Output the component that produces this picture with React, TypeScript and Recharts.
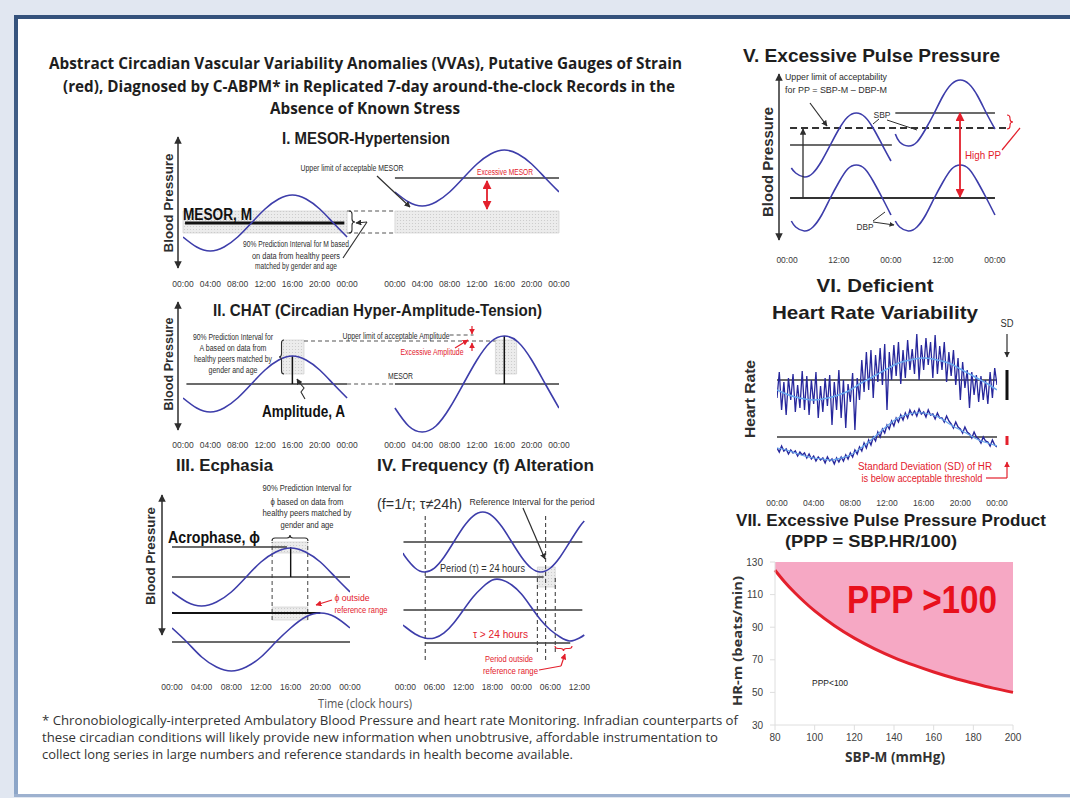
import React from "react";
import {
  Area,
  ComposedChart,
  Line,
  LineChart,
  ReferenceArea,
  ReferenceLine,
  XAxis,
  YAxis,
} from "recharts";

const ARIAL = '"Liberation Sans", Arial, sans-serif';
const CALIBRI = '"Open Sans", "Liberation Sans", sans-serif';
const BLUE = "#3d3daa";
const INK = "#2e2e2e";
const RED = "#e3202c";
const LINE = "#3a3a3a";

// ---- shared time grids (clock hours) ----
const dayHours = [0, 2, 4, 6, 8, 10, 12, 14, 16, 18, 20, 22, 24];
const dayHoursRight = [31, 33, 35, 37, 39, 41, 43, 45, 47, 49, 51, 53, 55];
const dayTicks = [0, 4, 8, 12, 16, 20, 24];
const dayTickLabels = ["00:00", "04:00", "08:00", "12:00", "16:00", "20:00", "00:00"];
const pairTicks = [0, 4, 8, 12, 16, 20, 24, 31, 35, 39, 43, 47, 51, 55];
const pairTickLabels = [...dayTickLabels, ...dayTickLabels];

// I. MESOR-hypertension (schematic BP units)
const mesorNormal = [33, 23, 19, 23, 33, 47, 61, 71, 75, 71, 61, 47, 33];
const mesorHigh = [78, 68, 64, 68, 78, 92, 106, 116, 120, 116, 106, 92, 78];

// II. CHAT
const chatNormal = [42, 32, 28, 32, 42, 56, 70, 80, 84, 80, 70, 56, 42];
const chatHigh = [32, 14, 8, 14, 32, 56, 80, 98, 104, 98, 80, 56, 32];

// III. Ecphasia
const ecphasiaNormal = [88, 78, 74, 78, 88, 103, 118, 128, 132, 128, 118, 103, 88];
const ecphasiaLate = [52, 38, 23, 13, 9, 13, 23, 38, 52, 63, 67, 63, 52];

// IV. Frequency alteration
const freqHours = [-0.5, 0, 2, 4, 6, 8, 10, 12, 14, 16, 18, 20, 22, 24, 26, 28, 30, 32, 34, 36, 37];
const freqTicks = [0, 6, 12, 18, 24, 30, 36];
const freqTickLabels = ["00:00", "06:00", "12:00", "18:00", "00:00", "06:00", "12:00"];
const freq24 = [127, 123, 112, 108, 112, 123, 138, 153, 164, 168, 164, 153, 138, 123, 112, 108, 112, 123, 138, 153, 159];
const freqLong = [55, 53, 46, 42, 42, 47, 57, 70, 83, 93, 100, 100, 95, 86, 73, 60, 50, 43, 39, 42, 45];

// V. Excessive pulse pressure
const ppHoursDay1 = [1, 2, 4, 6, 8, 10, 12, 14, 16, 18, 20, 22, 24];
const ppHoursDay2 = [25, 26, 28, 30, 32, 34, 36, 38, 40, 42, 44, 46, 48];
const ppTicks = [0, 12, 24, 36, 48];
const ppTickLabels = ["00:00", "12:00", "00:00", "12:00", "00:00"];
const sbpDay1 = [82, 77, 73, 77, 89, 105, 121, 133, 137, 133, 121, 105, 89];
const sbpDay2 = [116, 108, 104, 108, 121, 137, 154, 166, 170, 166, 154, 137, 121];
const dbpDay1 = [29, 23, 19, 23, 35, 52, 68, 81, 85, 81, 68, 52, 35];
const dbpDay2 = [29, 23, 19, 23, 35, 52, 68, 81, 85, 81, 68, 52, 35];

// VI. Heart rate, sampled every 15 min
const hrVariable = [
  72, 98, 60, 88, 55, 92, 70, 96, 58, 85, 62, 99, 60, 94, 55, 90,
  66, 98, 52, 84, 58, 92, 64, 95, 45, 88, 60, 100, 52, 90, 42, 86,
  68, 97, 40, 92, 70, 110, 78, 118, 80, 120, 72, 115, 88, 122, 85, 126,
  60, 118, 90, 125, 94, 128, 86, 120, 92, 130, 100, 121, 96, 136, 90, 125,
  100, 132, 105, 128, 92, 135, 96, 124, 100, 128, 88, 118, 94, 120, 85, 112,
  70, 108, 82, 100, 62, 98, 75, 95, 68, 94, 70, 90, 66, 98, 72, 102, 85,
];
const hrDamped = [
  22, 18, 24, 19, 21, 16, 20, 17, 19, 14, 18, 15, 17, 12, 16, 11,
  14, 9, 13, 10, 12, 7, 13, 9, 11, 6, 12, 8, 13, 9, 15, 11,
  17, 13, 20, 16, 23, 19, 27, 22, 30, 25, 33, 29, 38, 33, 41, 37,
  45, 41, 49, 44, 52, 48, 55, 50, 57, 52, 60, 55, 59, 54, 61, 56,
  58, 53, 60, 55, 56, 51, 57, 52, 52, 48, 54, 49, 46, 42, 48, 43,
  41, 37, 43, 38, 36, 32, 38, 33, 31, 27, 33, 29, 28, 24, 30, 25, 23,
];
const hourly = [0, 1, 2, 3, 4, 5, 6, 7, 8, 9, 10, 11, 12, 13, 14, 15, 16, 17, 18, 19, 20, 21, 22, 23, 24];
const hrVariableTrend = [80, 76, 73, 71, 70, 71, 73, 76, 80, 86, 91, 96, 101, 106, 109, 111, 112, 111, 109, 106, 101, 96, 91, 86, 80];
const hrDampedTrend = [22, 20, 17, 14, 12, 11, 10, 12, 15, 21, 28, 36, 44, 51, 55, 57, 57, 55, 51, 45, 40, 35, 30, 27, 24];

// VII. Pulse pressure product boundary (PPP = 100)
const pppSbp = [80, 85, 90, 95, 100, 110, 120, 130, 140, 150, 160, 170, 180, 190, 200];
const pppHr = [125, 117.6, 111.1, 105.3, 100, 90.9, 83.3, 76.9, 71.4, 66.7, 62.5, 58.8, 55.6, 52.6, 50];
const sbpTicks = [80, 100, 120, 140, 160, 180, 200];
const hrTicks = [30, 50, 70, 90, 110, 130];

const pts = (hours: number[], values: number[]) => hours.map((h, i) => ({ h, v: values[i] }));
const quarterPts = (values: number[]) => values.map((v, i) => ({ h: i / 4, v }));

const curve = (data: { h: number; v: number }[], color = BLUE, width = 1.6, type: any = "natural") => (
  <Line
    data={data}
    dataKey="v"
    type={type}
    stroke={color}
    strokeWidth={width}
    dot={false}
    activeDot={false}
    isAnimationActive={false}
  />
);

const seg = (x1: number, y1: number, x2: number, y2: number, stroke = LINE, width = 1.3, dash?: string) => (
  <ReferenceLine
    segment={[{ x: x1, y: y1 }, { x: x2, y: y2 }]}
    stroke={stroke}
    strokeWidth={width}
    strokeDasharray={dash}
    ifOverflow="visible"
  />
);

const box = (x1: number, x2: number, y1: number, y2: number) => (
  <ReferenceArea x1={x1} x2={x2} y1={y1} y2={y2} fill="url(#stipple)" fillOpacity={1} stroke="#c9c9c9" strokeWidth={0.6} ifOverflow="visible" />
);

function Sketch(props: {
  left: number;
  top: number;
  width: number;
  height: number;
  xDomain: number[];
  yDomain: number[];
  ticks: number[];
  labels: string[];
  gap: number;
  children: React.ReactNode;
}) {
  const { left, top, width, height, xDomain, yDomain, ticks, labels, gap, children } = props;
  return (
    <div style={{ position: "absolute", left: left - 15, top }}>
      <LineChart width={width + 30} height={height + 44} margin={{ top: 0, right: 15, bottom: 0, left: 15 }}>
        <XAxis
          type="number"
          dataKey="h"
          domain={xDomain}
          ticks={ticks}
          interval={0}
          tickFormatter={(_v: any, i: number) => labels[i]}
          axisLine={false}
          tickLine={false}
          tickSize={0}
          tickMargin={gap}
          height={44}
          allowDataOverflow
          tick={{ fontSize: 8.5, fill: "#3a3a3a", fontFamily: ARIAL }}
        />
        <YAxis hide type="number" domain={yDomain} allowDataOverflow />
        {children}
      </LineChart>
    </div>
  );
}

function Label(props: {
  x: number;
  y: number;
  w?: number;
  size?: number;
  color?: string;
  bold?: boolean;
  family?: string;
  anchor?: "start" | "middle" | "end";
  rotate?: boolean;
  children: React.ReactNode;
}) {
  const { x, y, w, size = 8.5, color = INK, bold = false, family = ARIAL, anchor = "middle", rotate = false, children } = props;
  return (
    <text
      x={x}
      y={y}
      fontSize={size}
      fill={color}
      fontWeight={bold ? 700 : 400}
      fontFamily={family}
      textAnchor={anchor}
      dominantBaseline="central"
      textLength={w}
      lengthAdjust="spacingAndGlyphs"
      transform={rotate ? `rotate(-90 ${x} ${y})` : undefined}
    >
      {children}
    </text>
  );
}

function Arrow({ x1, y1, x2, y2, color = INK, w = 1.2, both = false }: any) {
  const id = color === RED ? "arrR" : "arrK";
  return (
    <line
      x1={x1}
      y1={y1}
      x2={x2}
      y2={y2}
      stroke={color}
      strokeWidth={w}
      markerEnd={`url(#${id})`}
      markerStart={both ? `url(#${id})` : undefined}
    />
  );
}

// vertical curly brace from y1 to y2 at x, tip offset d (sign = direction)
function VBrace({ x, y1, y2, d, color = INK }: any) {
  const m = (y1 + y2) / 2;
  const q = Math.min(3, Math.abs(y2 - y1) / 4);
  const h = d / 2;
  const p = `M ${x} ${y1} Q ${x + h} ${y1} ${x + h} ${y1 + q} L ${x + h} ${m - q} Q ${x + h} ${m} ${x + d} ${m} Q ${x + h} ${m} ${x + h} ${m + q} L ${x + h} ${y2 - q} Q ${x + h} ${y2} ${x} ${y2}`;
  return <path d={p} fill="none" stroke={color} strokeWidth={1.1} />;
}

function HBrace({ y, x1, x2, d, color = INK }: any) {
  const m = (x1 + x2) / 2;
  const q = Math.min(3, Math.abs(x2 - x1) / 4);
  const h = d / 2;
  const p = `M ${x1} ${y} Q ${x1} ${y + h} ${x1 + q} ${y + h} L ${m - q} ${y + h} Q ${m} ${y + h} ${m} ${y + d} Q ${m} ${y + h} ${m + q} ${y + h} L ${x2 - q} ${y + h} Q ${x2} ${y + h} ${x2} ${y}`;
  return <path d={p} fill="none" stroke={color} strokeWidth={1.1} />;
}

function MesorPanel() {
  return (
    <Sketch left={183} top={135} width={376} height={135} xDomain={[0, 55]} yDomain={[0, 135]} ticks={pairTicks} labels={pairTickLabels} gap={11}>
      {box(0, 24, 37, 59)}
      {box(31, 55, 37, 59)}
      {seg(24, 59, 31, 59, "#555", 1.1, "4 3")}
      {seg(24, 37, 31, 37, "#555", 1.1, "4 3")}
      {seg(0.3, 47, 23.6, 47, "#111", 3)}
      {seg(31, 92, 55, 92)}
      {curve(pts(dayHours, mesorNormal))}
      {curve(pts(dayHoursRight, mesorHigh))}
    </Sketch>
  );
}

function ChatPanel() {
  return (
    <Sketch left={183} top={300} width={376} height={140} xDomain={[0, 55]} yDomain={[0, 140]} ticks={pairTicks} labels={pairTickLabels} gap={2}>
      {box(14.6, 17.7, 66, 100)}
      {box(45.7, 48.8, 66, 100)}
      {seg(0.5, 56, 24, 56)}
      {seg(24, 56, 31, 56, "#555", 1.1, "4 3")}
      {seg(31, 56, 55, 56)}
      {seg(17.7, 99, 45.7, 99, "#555", 1.1, "4 3")}
      {seg(39, 105, 42.5, 105, "#555", 1.1, "4 3")}
      {seg(16, 56, 16, 84, "#111", 1.5)}
      {seg(47, 56, 47, 104, "#111", 1.5)}
      {curve(pts(dayHours, chatNormal))}
      {curve(pts(dayHoursRight, chatHigh))}
    </Sketch>
  );
}

function EcphasiaPanel() {
  return (
    <Sketch left={172} top={490} width={178} height={190} xDomain={[0, 24]} yDomain={[0, 190]} ticks={dayTicks} labels={dayTickLabels} gap={4}>
      {box(13.5, 18.3, 127, 138)}
      {box(13.5, 18.3, 60, 73)}
      {seg(13.5, 60, 13.5, 138, "#555", 1.1, "4 3")}
      {seg(18.3, 60, 18.3, 138, "#555", 1.1, "4 3")}
      {seg(0, 133, 15.5, 133)}
      {seg(0, 103, 24, 103)}
      {seg(0, 67, 20, 67, "#111", 2)}
      {seg(0, 38, 24, 38)}
      {seg(16, 103, 16, 133, "#111", 1.4)}
      {curve(pts(dayHours, ecphasiaNormal))}
      {curve(pts(dayHours, ecphasiaLate))}
    </Sketch>
  );
}

function FrequencyPanel() {
  return (
    <Sketch left={402.6} top={505} width={183.7} height={175} xDomain={[-0.5, 37.5]} yDomain={[0, 175]} ticks={freqTicks} labels={freqTickLabels} gap={4}>
      {box(27.3, 31, 93, 113)}
      {seg(-0.4, 138, 36.6, 138)}
      {seg(-0.4, 70, 36.6, 70)}
      {seg(4.1, 103, 28.6, 103)}
      {seg(4.1, 37, 34.1, 37)}
      {seg(4.1, 20, 4.1, 167, "#444", 1.1, "4 3")}
      {seg(29, 20, 29, 167, "#444", 1.1, "4 3")}
      {seg(27.3, 28, 27.3, 103, "#444", 1.1, "4 3")}
      {seg(31, 28, 31, 103, "#444", 1.1, "4 3")}
      {curve(pts(freqHours, freq24))}
      {curve(pts(freqHours, freqLong))}
    </Sketch>
  );
}

function PulsePressurePanel() {
  return (
    <Sketch left={787} top={70} width={225.3} height={180} xDomain={[0, 52]} yDomain={[0, 180]} ticks={ppTicks} labels={ppTickLabels} gap={7}>
      {seg(0.7, 105, 24.2, 105)}
      {seg(25, 137, 48, 137)}
      {seg(0.7, 52, 48, 52, "#333", 1.8)}
      {seg(0.7, 122, 50.8, 122, "#333", 2, "7 4")}
      {curve(pts(ppHoursDay1, sbpDay1))}
      {curve(pts(ppHoursDay2, sbpDay2))}
      {curve(pts(ppHoursDay1, dbpDay1))}
      {curve(pts(ppHoursDay2, dbpDay2))}
    </Sketch>
  );
}

function HeartRatePanel() {
  return (
    <Sketch left={777} top={330} width={220} height={140} xDomain={[0, 24]} yDomain={[0, 140]} ticks={dayTicks} labels={dayTickLabels} gap={30}>
      {seg(0, 90, 24, 90)}
      {seg(0, 33, 24, 33)}
      {curve(quarterPts(hrVariable), "#27279c", 1.3, "linear")}
      {curve(quarterPts(hrDamped), "#27279c", 1.4, "linear")}
      {curve(pts(hourly, hrVariableTrend), "#6aa8ee", 1.5)}
      {curve(pts(hourly, hrDampedTrend), "#6aa8ee", 1.2)}
    </Sketch>
  );
}

function PulseProductChart() {
  const data = pppSbp.map((sbp, i) => ({ sbp, hr: pppHr[i] }));
  const tick = { fontSize: 10, fill: "#404040", fontFamily: ARIAL };
  return (
    <div style={{ position: "absolute", left: 740, top: 552 }}>
      <ComposedChart width={288} height={203} data={data} margin={{ top: 10, right: 15, bottom: 0, left: 0 }}>
        <XAxis
          type="number"
          dataKey="sbp"
          domain={[80, 200]}
          ticks={sbpTicks}
          interval={0}
          height={30}
          tickSize={5}
          tickMargin={4}
          stroke="#dedede"
          tick={tick}
        />
        <YAxis
          type="number"
          domain={[30, 130]}
          ticks={hrTicks}
          interval={0}
          width={35}
          tickSize={5}
          tickMargin={7}
          stroke="#dedede"
          tick={tick}
        />
        <Area dataKey="hr" type="monotone" baseValue={130} fill="#f6a8c4" fillOpacity={1} stroke="none" isAnimationActive={false} />
        <Line dataKey="hr" type="monotone" stroke={RED} strokeWidth={3} dot={false} activeDot={false} isAnimationActive={false} />
      </ComposedChart>
    </div>
  );
}

function Overlay() {
  return (
    <svg width={1070} height={798} style={{ position: "absolute", left: 0, top: 0, pointerEvents: "none" }}>
      <defs>
        <pattern id="stipple" width="3" height="3" patternUnits="userSpaceOnUse">
          <rect width="3" height="3" fill="#ececec" />
          <circle cx="1.5" cy="1.5" r="0.55" fill="#c8c8c8" />
        </pattern>
        <marker id="arrK" viewBox="0 0 10 10" refX="9" refY="5" markerWidth="5" markerHeight="5" orient="auto-start-reverse">
          <path d="M0,0 L10,5 L0,10 z" fill={INK} />
        </marker>
        <marker id="arrR" viewBox="0 0 10 10" refX="9" refY="5" markerWidth="5" markerHeight="5" orient="auto-start-reverse">
          <path d="M0,0 L10,5 L0,10 z" fill={RED} />
        </marker>
        <linearGradient id="edge" x1="0" y1="0" x2="0" y2="1">
          <stop offset="0" stopColor="#34527c" />
          <stop offset="1" stopColor="#8ea7c9" />
        </linearGradient>
      </defs>

      {/* slide frame */}
      <rect x={14} y={15} width={1056} height={4} fill="#34527c" />
      <rect x={14} y={15} width={4} height={782} fill="url(#edge)" />
      <rect x={14} y={794} width={1056} height={3} fill="#9db1cf" />

      {/* title */}
      <Label x={365.5} y={63} w={633} size={15.5} bold family={CALIBRI} color="#1e1e1e">
        Abstract Circadian Vascular Variability Anomalies (VVAs), Putative Gauges of Strain
      </Label>
      <Label x={369} y={86} w={612} size={15.5} bold family={CALIBRI} color="#1e1e1e">
        (red), Diagnosed by C-ABPM*  in Replicated 7-day around-the-clock Records in the
      </Label>
      <Label x={365} y={108} w={190} size={15.5} bold family={CALIBRI} color="#1e1e1e">
        Absence of Known Stress
      </Label>

      {/* I */}
      <Label x={366} y={138} w={168} size={16} bold color="#1e1e1e">I. MESOR-Hypertension</Label>
      <Arrow x1={178} y1={137} x2={178} y2={268} both w={1.5} />
      <Label x={168} y={203} w={99} size={13} bold rotate>Blood Pressure</Label>
      <Label x={217.5} y={214} w={69} size={16} bold color="#111">MESOR, M</Label>
      <Label x={352} y={168} w={103}>Upper limit of acceptable MESOR</Label>
      <Arrow x1={377} y1={176} x2={410} y2={207} />
      <Label x={505} y={172} w={56} color={RED}>Excessive MESOR</Label>
      <Arrow x1={487} y1={181} x2={487} y2={209} color={RED} both w={1.8} />
      <VBrace x={349} y1={211} y2={233} d={6} />
      <line x1={343} y1={258} x2={367} y2={222} stroke={INK} strokeWidth={1.1} />
      <Arrow x1={367} y1={222} x2={356} y2={223} />
      <Label x={296} y={244} w={106}>90% Prediction Interval for M based</Label>
      <Label x={296} y={256} w={88}>on data from healthy peers</Label>
      <Label x={296} y={266} w={82}>matched by gender and age</Label>

      {/* II */}
      <Label x={377.5} y={310} w={329} size={16} bold color="#1e1e1e">II. CHAT (Circadian Hyper-Amplitude-Tension)</Label>
      <Arrow x1={178} y1={302} x2={178} y2={430} both w={1.5} />
      <Label x={168} y={364} w={93} size={13} bold rotate>Blood Pressure</Label>
      <Label x={233} y={337} w={80}>90% Prediction Interval for</Label>
      <Label x={233} y={348} w={67}>A based on data from</Label>
      <Label x={233} y={359} w={78}>healthy peers matched by</Label>
      <Label x={233} y={370} w={49}>gender and age</Label>
      <VBrace x={284} y1={340} y2={374} d={-5} />
      <Label x={396} y={336} w={107}>Upper limit of acceptable Amplitude</Label>
      <Label x={432} y={352} w={63} color={RED}>Excessive Amplitude</Label>
      <Arrow x1={472} y1={326} x2={472} y2={334} color={RED} />
      <Arrow x1={472} y1={351} x2={472} y2={343} color={RED} />
      <Arrow x1={455} y1={348} x2={468} y2={340} color={RED} />
      <Label x={400.5} y={376} w={25}>MESOR</Label>
      <Label x={303.5} y={411} w={83} size={16} bold color="#111">Amplitude, A</Label>
      <path d="M 305 399 L 301 392 L 304 388 L 298 381" fill="none" stroke={INK} strokeWidth={1.1} />
      <Arrow x1={300} y1={384} x2={297} y2={379} />

      {/* III */}
      <Label x={224.5} y={465} w={97} size={16} bold color="#1e1e1e">III. Ecphasia</Label>
      <Arrow x1={162} y1={495} x2={162} y2={635} both w={1.5} />
      <Label x={150} y={556} w={98} size={13} bold rotate>Blood Pressure</Label>
      <Label x={307} y={488} w={89} size={9}>90% Prediction Interval for</Label>
      <Label x={307} y={502} w={73} size={9}>ϕ based on data from</Label>
      <Label x={307} y={513} w={89} size={9}>healthy peers matched by</Label>
      <Label x={307} y={525} w={53} size={9}>gender and age</Label>
      <HBrace y={541} x1={272} x2={308} d={-6} />
      <Label x={214} y={537} w={92} size={16} bold color="#111">Acrophase, ϕ</Label>
      <Label x={352} y={598} w={35} size={9} color={RED}>ϕ outside</Label>
      <Label x={361} y={610} w={53} size={9} color={RED}>reference range</Label>
      <Arrow x1={332} y1={600} x2={316} y2={605} color={RED} />

      {/* IV */}
      <Label x={485.5} y={465} w={217} size={16} bold color="#1e1e1e">IV. Frequency (f) Alteration</Label>
      <Label x={419.5} y={503} w={85} size={15}>(f=1/τ; τ≠24h)</Label>
      <Label x={532} y={502} w={125}>Reference Interval for the period</Label>
      <Arrow x1={523} y1={508} x2={545} y2={559} />
      <Label x={482.5} y={568} w={85} size={10}>Period (τ) = 24 hours</Label>
      <Label x={500.5} y={634} w={55} size={10} color={RED}>τ &gt; 24 hours</Label>
      <HBrace y={646} x1={555} x2={572} d={5} color={RED} />
      <Label x={509} y={659} w={48} size={9} color={RED}>Period outside</Label>
      <Label x={510.5} y={671} w={55} size={9} color={RED}>reference range</Label>
      <polyline points="539,670 561,666" fill="none" stroke={RED} strokeWidth={1.2} />
      <Arrow x1={561} y1={666} x2={565} y2={654} color={RED} />
      <Label x={365} y={703} w={94} size={12.5} family={CALIBRI} color="#555">Time (clock hours)</Label>

      {/* V */}
      <Label x={871.5} y={55} w={257} size={19} bold color="#1e1e1e">V. Excessive Pulse Pressure</Label>
      <Arrow x1={779} y1={74} x2={779} y2={240} both w={1.5} />
      <Label x={768} y={162} w={110} size={14} bold rotate>Blood Pressure</Label>
      <Label x={785} y={77} w={102} anchor="start">Upper limit of acceptability</Label>
      <Label x={785} y={90} w={102} anchor="start">for PP = SBP-M – DBP-M</Label>
      <Arrow x1={810} y1={103} x2={827} y2={126} />
      <Label x={882} y={115} w={17}>SBP</Label>
      <line x1={879} y1={119} x2={873} y2={124} stroke={INK} strokeWidth={1} />
      <line x1={887} y1={120} x2={917} y2={130} stroke={INK} strokeWidth={1} />
      <Label x={865} y={227} w={17}>DBP</Label>
      <line x1={873} y1={221} x2={885} y2={212} stroke={INK} strokeWidth={1} />
      <Arrow x1={873} y1={222} x2={894} y2={225} w={1} />
      <Arrow x1={803} y1={198} x2={803} y2={129} w={1.3} />
      <Arrow x1={960} y1={113} x2={960} y2={197} color={RED} both w={1.8} />
      <Label x={983} y={155} w={36} size={11} color={RED}>High PP</Label>
      <VBrace x={1007} y1={115} y2={129} d={6} color={RED} />
      <polyline points="1002,150 1020,128" fill="none" stroke={RED} strokeWidth={1.2} />

      {/* VI */}
      <Label x={875} y={285} w={117} size={19} bold color="#1e1e1e">VI. Deficient</Label>
      <Label x={875} y={312} w={206} size={19} bold color="#1e1e1e">Heart Rate Variability</Label>
      <Label x={750} y={399} w={78} size={14} bold rotate>Heart Rate</Label>
      <Label x={1007} y={323} w={13} size={10}>SD</Label>
      <Arrow x1={1007} y1={334} x2={1007} y2={357} />
      <rect x={1005.5} y={370} width={3} height={30} fill="#111" />
      <rect x={1005.5} y={436} width={3} height={9} fill={RED} />
      <Label x={925} y={466} w={134} size={10} color={RED}>Standard Deviation (SD) of HR</Label>
      <Label x={922} y={478} w={121} size={10} color={RED}>is below acceptable threshold</Label>
      <polyline points="986,478 1007,478" fill="none" stroke={RED} strokeWidth={1.2} />
      <Arrow x1={1007} y1={478} x2={1007} y2={462} color={RED} />

      {/* VII */}
      <Label x={891} y={520} w={310} size={16.5} bold color="#1e1e1e">VII. Excessive Pulse Pressure Product</Label>
      <Label x={871} y={541} w={172} size={16.5} bold color="#1e1e1e">(PPP = SBP.HR/100)</Label>
      <Label x={922} y={600} w={150} size={38} bold color="#e8101c">PPP &gt;100</Label>
      <Label x={830} y={683} w={36} size={9} color="#222">PPP&lt;100</Label>
      <Label x={737} y={641} w={130} size={13} bold family={CALIBRI} rotate color="#333">HR-m (beats/min)</Label>
      <Label x={895} y={757} w={100} size={13.5} bold family={CALIBRI} color="#333">SBP-M (mmHg)</Label>

      {/* footnote */}
      <Label x={42} y={720} w={696} size={12} family={CALIBRI} anchor="start" color="#333">
        * Chronobiologically-interpreted Ambulatory Blood Pressure and heart rate Monitoring. Infradian counterparts of
      </Label>
      <Label x={42} y={737} w={676} size={12} family={CALIBRI} anchor="start" color="#333">
        these circadian conditions will likely provide new information when unobtrusive, affordable instrumentation to
      </Label>
      <Label x={42} y={754} w={531} size={12} family={CALIBRI} anchor="start" color="#333">
        collect long series in large numbers and reference standards in health become available.
      </Label>
    </svg>
  );
}

export default function App() {
  return (
    <div
      style={{
        position: "absolute",
        left: 0,
        top: 0,
        width: 1070,
        height: 798,
        background: "#e1e7f1",
        overflow: "hidden",
        fontFamily: ARIAL,
      }}
    >
      <div style={{ position: "absolute", left: 14, top: 15, width: 1056, height: 780, background: "#ffffff" }} />
      <MesorPanel />
      <ChatPanel />
      <EcphasiaPanel />
      <FrequencyPanel />
      <PulsePressurePanel />
      <HeartRatePanel />
      <PulseProductChart />
      <Overlay />
    </div>
  );
}
